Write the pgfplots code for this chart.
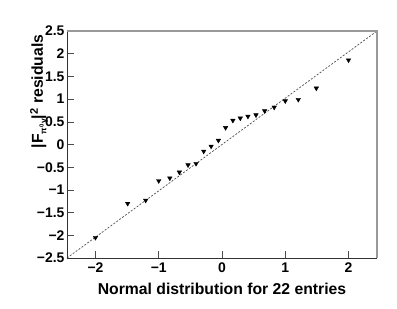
\documentclass[border=0pt]{standalone}
\usepackage{pgfplots}
\pgfplotsset{compat=1.18}
\usepackage{fontspec}
\setmainfont{Liberation Sans}
\begin{document}
\begin{tikzpicture}
\path[use as bounding box] (-67bp,-51bp) rectangle (330bp,258bp);
\begin{axis}[
  at={(0,0)}, anchor=south west,
  scale only axis, width=310bp, height=227bp,
  xmin=-2.45, xmax=2.45, ymin=-2.5, ymax=2.5,
  axis line style={draw=none},
  tick align=inside, xtick pos=bottom, ytick pos=left,
  xtick={-2,-1,0,1,2}, xticklabels={−2,−1,0,1,2},
  ytick={-2.5,-2,-1.5,-1,-0.5,0,0.5,1,1.5,2,2.5},
  yticklabels={−2.5,−2,−1.5,−1,−0.5,0,0.5,1,1.5,2,2.5},
  minor tick num=0,
  major tick length=7bp,
  tick style={color=black!70, line width=0.6bp},
  tick label style={font=\fontsize{14}{16}\selectfont\bfseries},
  yticklabel style={xshift=1bp},
  xticklabel style={yshift=-1bp},
  every axis x label/.style={at={(rel axis cs:0.5,0)}, anchor=base, yshift=-36bp, font=\bfseries\fontsize{15.8}{18}\selectfont},
  every axis y label/.style={at={([xshift=-24bp]rel axis cs:0,1)}, rotate=90, anchor=base east, font=\bfseries\fontsize{15.8}{18}\selectfont},
  xlabel={Normal distribution for 22 entries},
  ylabel={|F\raisebox{-3.5bp}{\fontsize{8.5}{9}\selectfont π\textsuperscript{0}γ}|\textsuperscript{2} residuals},
  clip=false,
]
\addplot[black!70, line width=0.7bp, dash pattern=on 2bp off 1.6bp] coordinates {(-2.45,-2.5) (2.45,2.5)};
\addplot[only marks, mark=triangle*, mark size=2.6bp, mark options={rotate=180, fill=black, draw=black}] coordinates {
(-2.000,-2.05) (-1.491,-1.30) (-1.206,-1.23) (-1.000,-0.80) (-0.825,-0.74)
(-0.674,-0.61) (-0.537,-0.45) (-0.410,-0.42) (-0.289,-0.15) (-0.172,-0.04)
(-0.057,0.09) (0.057,0.37) (0.172,0.53) (0.289,0.58) (0.410,0.62)
(0.537,0.65) (0.674,0.74) (0.825,0.82) (1.000,0.96) (1.206,0.99)
(1.491,1.24) (2.000,1.86)
};
\draw[black!80, line width=0.8bp] (rel axis cs:0,1) -- (rel axis cs:0,0) -- (rel axis cs:1,0);
\draw[black!40, line width=1.5bp] (rel axis cs:0,1) -- (rel axis cs:1,1) -- (rel axis cs:1,0);
\end{axis}
\end{tikzpicture}
\end{document}
